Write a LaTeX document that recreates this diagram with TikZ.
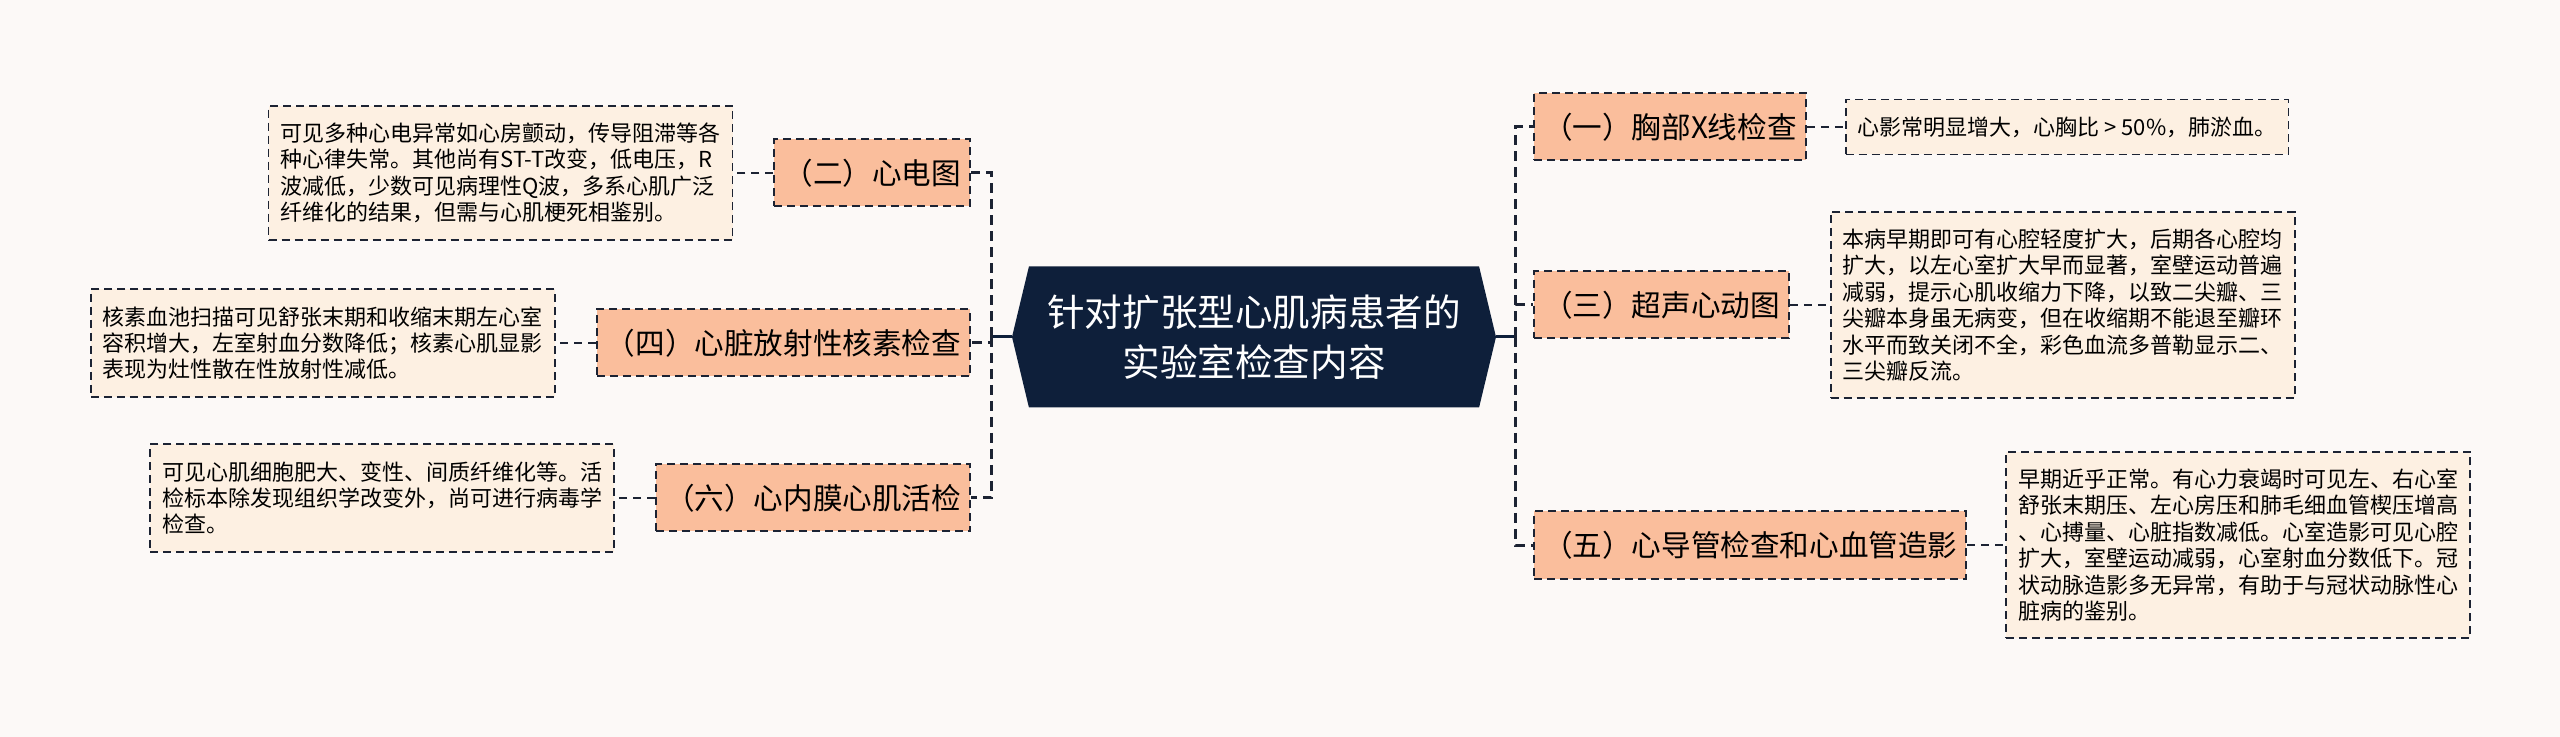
\documentclass[tikz,border=0pt]{standalone}
\usepackage{fontspec}
\setmainfont{Noto Sans CJK SC}
\usetikzlibrary{positioning,shapes.symbols}
\definecolor{bgcol}{HTML}{FCF9F7}
\definecolor{rootfill}{HTML}{0E1F3A}
\definecolor{topicfill}{HTML}{FABE9C}
\definecolor{leaffill}{HTML}{FDF0E2}
\definecolor{edgecol}{HTML}{1C2333}
\tikzset{
    % central title box
    root/.style = {signal, signal to=west and east, signal pointer angle=153, fill=rootfill, text=white,
        minimum width=242pt, minimum height=70.5pt, align=center, inner sep=0pt,
        font=\fontsize{18.8}{25}\selectfont},
    % first level boxes
    topic/.style = {fill=topicfill, draw=edgecol, line width=1pt, dash pattern=on 4pt off 2.5pt,
        minimum height=33.5pt, inner xsep=4.5pt, font=\fontsize{14.8}{17}\selectfont},
    % note boxes
    leaf/.style = {fill=leaffill, draw=edgecol, line width=0.9pt, dash pattern=on 4pt off 2.5pt,
        align=left, inner xsep=6pt, inner ysep=8.5pt, font=\fontsize{11}{13.2}\selectfont},
    leafwide/.style = {leaf, text width=220pt},
    % connector styles
    trunk/.style = {draw=rootfill, line width=1.5pt},
    branch/.style = {draw=edgecol, line width=1.5pt, dash pattern=on 5pt off 3pt},
    twig/.style = {draw=edgecol, line width=1pt, dash pattern=on 4pt off 3pt}
}
\begin{document}
\begin{tikzpicture}[x=0.5pt, y=-0.5pt]
    \useasboundingbox (0,0) rectangle (2560,737);
    \fill[bgcol] (0,0) rectangle (2560,737);
    % centre
    \node[root] (root) at (1254,337) {针对扩张型心肌病患者的\\实验室检查内容};
    \coordinate (ljoint) at ([xshift=-10pt]root.west);
    \coordinate (rjoint) at ([xshift=9.5pt]root.east);
    % left branches
    \node[topic, anchor=east] (ecg) at (971,173) {（二）心电图};
    \node[topic, anchor=east] (nuclear) at (971,343) {（四）心脏放射性核素检查};
    \node[topic, anchor=east] (biopsy) at (971,498) {（六）心内膜心肌活检};
    % right branches
    \node[topic, anchor=west] (xray) at (1533,127) {（一）胸部X线检查};
    \node[topic, anchor=west] (echo) at (1533,305) {（三）超声心动图};
    \node[topic, anchor=west] (cath) at (1533,545) {（五）心导管检查和心血管造影};
    % notes
    \node[leafwide, left=20pt of ecg] (ecg note) {可见多种心电异常如心房颤动，传导阻滞等各\\种心律失常。其他尚有ST-T改变，低电压，R\\波减低，少数可见病理性Q波，多系心肌广泛\\纤维化的结果，但需与心肌梗死相鉴别。};
    \node[leafwide, left=20pt of nuclear] (nuclear note) {核素血池扫描可见舒张末期和收缩末期左心室\\容积增大，左室射血分数降低；核素心肌显影\\表现为灶性散在性放射性减低。};
    \node[leafwide, left=20pt of biopsy] (biopsy note) {可见心肌细胞肥大、变性、间质纤维化等。活\\检标本除发现组织学改变外，尚可进行病毒学\\检查。};
    \node[leaf, right=19pt of xray] (xray note) {心影常明显增大，心胸比 > 50\%，肺淤血。};
    \node[leafwide, right=20pt of echo] (echo note) {本病早期即可有心腔轻度扩大，后期各心腔均\\扩大，以左心室扩大早而显著，室壁运动普遍\\减弱，提示心肌收缩力下降，以致二尖瓣、三\\尖瓣本身虽无病变，但在收缩期不能退至瓣环\\水平而致关闭不全，彩色血流多普勒显示二、\\三尖瓣反流。};
    \node[leafwide, right=19pt of cath] (cath note) {早期近乎正常。有心力衰竭时可见左、右心室\\舒张末期压、左心房压和肺毛细血管楔压增高\\、心搏量、心脏指数减低。心室造影可见心腔\\扩大，室壁运动减弱，心室射血分数低下。冠\\状动脉造影多无异常，有助于与冠状动脉性心\\脏病的鉴别。};
    % connectors
    \draw[trunk] (root.west) -- (ljoint);
    \draw[trunk] (root.east) -- (rjoint);
    \draw[branch] (ljoint) |- (ecg.east);
    \draw[branch] (ljoint) |- (nuclear.east);
    \draw[branch] (ljoint) |- (biopsy.east);
    \draw[branch] (rjoint) |- (xray.west);
    \draw[branch] (rjoint) |- (echo.west);
    \draw[branch] (rjoint) |- (cath.west);
    \draw[twig] (ecg) -- (ecg note);
    \draw[twig] (nuclear) -- (nuclear note);
    \draw[twig] (biopsy) -- (biopsy note);
    \draw[twig] (xray) -- (xray note);
    \draw[twig] (echo) -- (echo note);
    \draw[twig] (cath) -- (cath note);
\end{tikzpicture}
\end{document}
